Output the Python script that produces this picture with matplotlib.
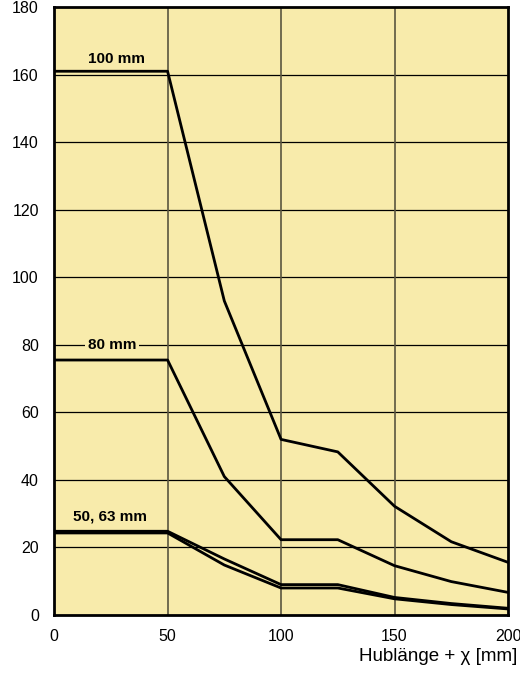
import numpy as np
import matplotlib.pyplot as plt

# Hublänge + chi [mm]
x = [0, 50, 75, 100, 125, 150, 175, 200]
d100 = [161, 161, 93, 52, 48.3, 32.2, 21.7, 15.6]
d80 = [75.5, 75.5, 41, 22.3, 22.3, 14.6, 9.9, 6.7]
d63 = [24.8, 24.8, 16.6, 9.0, 9.0, 5.2, 3.4, 2.0]
d50 = [24.3, 24.3, 14.8, 8.0, 8.0, 4.8, 3.1, 1.8]

labels = ['100 mm', '80 mm', '50, 63 mm']
label_pos = [(27.5, 164.6), (25.5, 80), (24.7, 29.3)]

bg = '#f8ebab'

fig = plt.figure(figsize=(5.2, 6.74), dpi=100)
ax = fig.add_axes([0.104, 0.0875, 0.873, 0.902])
ax.set_facecolor(bg)

for s in [d100, d80, d63, d50]:
    ax.plot(x, s, color='black', lw=2.0, zorder=3)

for txt, (tx, ty) in zip(labels, label_pos):
    ax.text(tx, ty, txt, ha='center', va='center', fontsize=11,
            fontweight='bold', family='Liberation Sans', zorder=4,
            bbox=dict(facecolor=bg, edgecolor='none', pad=2))

ax.set_xlim(0, 200)
ax.set_ylim(0, 180)
ax.set_xticks([0, 50, 100, 150, 200])
ax.set_yticks(np.arange(0, 181, 20))
for yy in range(20, 180, 20):
    ax.axhline(yy, color='black', lw=0.9, zorder=1)
for xx in [50, 100, 150]:
    ax.axvline(xx, color='#5a5540', lw=1.2, zorder=1)

ax.tick_params(length=0, labelsize=11.5)
ax.tick_params(axis='x', pad=10)
ax.tick_params(axis='y', pad=11)
for lab in ax.get_xticklabels() + ax.get_yticklabels():
    lab.set_family('Liberation Sans')
for sp in ax.spines.values():
    sp.set_linewidth(2)
    sp.set_color('black')

fig.text(0.995, 0.026, 'Hublänge + χ [mm]', ha='right', va='center',
         fontsize=13.5, family='Liberation Sans')

fig.savefig('out.png', dpi=100)
